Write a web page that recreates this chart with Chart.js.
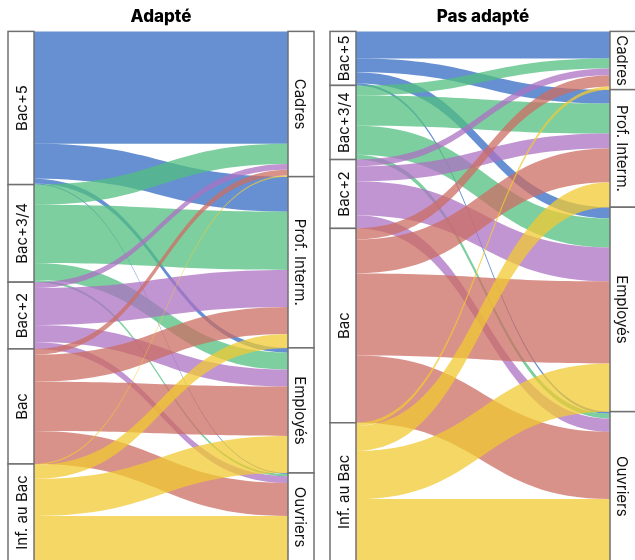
<!DOCTYPE html>
<html><head><meta charset="utf-8">
<script src="https://cdn.jsdelivr.net/npm/chart.js@4/dist/chart.umd.min.js"></script>
<style>
html,body{margin:0;padding:0;background:#fff;overflow:hidden;width:635px;height:560px;position:relative;}
canvas{position:absolute;top:0;}
#c1{left:0}
#c2{left:322px}
</style></head><body>
<canvas id="c1" width="322" height="561"></canvas>
<canvas id="c2" width="322" height="561"></canvas>
<script>
// Catégories
const sources = ["Bac+5", "Bac+3/4", "Bac+2", "Bac", "Inf. au Bac"];
const targets = ["Cadres", "Prof. Interm.", "Employés", "Ouvriers"];
const panelTitles = ["Adapté", "Pas adapté"];
// Couleurs des flux (une par diplôme)
const flowColors = [
  "rgba(51,107,193,0.75)",
  "rgba(82,191,128,0.75)",
  "rgba(172,114,195,0.75)",
  "rgba(204,110,99,0.75)",
  "rgba(242,202,51,0.75)"
];
// Flux en % (ligne = diplôme, colonne = catégorie socio-professionnelle)
const adapteFlows = [
  [21.2, 6.6, 0.9, 0.2],
  [3.8, 11.0, 3.2, 0.4],
  [1.1, 7.0, 3.2, 1.3],
  [1.1, 5.1, 9.3, 6.2],
  [0.2, 2.6, 7.0, 8.5]
];
const pasAdapteFlows = [
  [5.1, 2.6, 2.1, 0.4],
  [1.9, 5.7, 5.5, 0.9],
  [1.3, 2.8, 6.4, 2.5],
  [2.1, 6.4, 15.5, 12.7],
  [0.6, 4.7, 9.1, 11.7]
];

const FONT = "Inter, 'Open Sans', sans-serif";
Chart.defaults.font.family = FONT;

const sankeyPlugin = {
  id: 'sankey',
  afterDatasetsDraw(chart, args, opts) {
    const ctx = chart.ctx;
    const xs = chart.scales.x, ys = chart.scales.y;
    const m = opts.matrix;
    const nw = opts.nodeWidth;
    const xl = xs.getPixelForValue(0), xr = xs.getPixelForValue(1);
    const srcTot = m.map(r => r.reduce((a, b) => a + b, 0));
    const tgtTot = targets.map((_, j) => m.reduce((a, r) => a + r[j], 0));
    const srcStart = []; let acc = 0;
    srcTot.forEach(v => { srcStart.push(acc); acc += v; });
    const tgtStart = []; acc = 0;
    tgtTot.forEach(v => { tgtStart.push(acc); acc += v; });
    const tgtOff = tgtStart.slice();
    const x0 = xl + nw, x1 = xr - nw, xm = (x0 + x1) / 2;
    ctx.save();
    m.forEach((row, i) => {
      let so = srcStart[i];
      row.forEach((v, j) => {
        const a0 = ys.getPixelForValue(so), a1 = ys.getPixelForValue(so + v);
        const b0 = ys.getPixelForValue(tgtOff[j]), b1 = ys.getPixelForValue(tgtOff[j] + v);
        so += v; tgtOff[j] += v;
        ctx.beginPath();
        ctx.moveTo(x0, a0);
        ctx.bezierCurveTo(xm, a0, xm, b0, x1, b0);
        ctx.lineTo(x1, b1);
        ctx.bezierCurveTo(xm, b1, xm, a1, x0, a1);
        ctx.closePath();
        ctx.fillStyle = flowColors[i];
        ctx.fill();
      });
    });
    // nodes
    const drawNode = (xa, start, val, label, rot) => {
      const ya = ys.getPixelForValue(start), yb = ys.getPixelForValue(start + val);
      ctx.fillStyle = '#fff';
      ctx.fillRect(xa, ya, nw, yb - ya);
      ctx.strokeStyle = '#707070';
      ctx.lineWidth = 1.5;
      ctx.strokeRect(xa, ya, nw, yb - ya);
      ctx.save();
      ctx.translate(xa + nw / 2, (ya + yb) / 2);
      ctx.rotate(rot);
      ctx.fillStyle = '#111';
      ctx.font = "15px " + FONT;
      ctx.textAlign = 'center';
      ctx.textBaseline = 'middle';
      ctx.fillText(label, 0, 1);
      ctx.restore();
    };
    sources.forEach((s, i) => drawNode(xl, srcStart[i], srcTot[i], s, -Math.PI / 2));
    targets.forEach((t, j) => drawNode(xr - nw, tgtStart[j], tgtTot[j], t, Math.PI / 2));
    ctx.restore();
  }
};

function makePanel(id, title, matrix) {
  const total = matrix.reduce((a, r) => a + r.reduce((b, c) => b + c, 0), 0);
  new Chart(document.getElementById(id), {
    type: 'scatter',
    data: { datasets: [{ data: [] }] },
    options: {
      responsive: false,
      animation: false,
      layout: { padding: { left: 8, right: 8, top: 0, bottom: 0 } },
      scales: {
        x: { type: 'linear', min: 0, max: 1, display: false },
        y: { type: 'linear', min: 0, max: total, reverse: true, display: false }
      },
      plugins: {
        legend: { display: false },
        tooltip: { enabled: false },
        title: {
          display: true, text: title, color: '#000',
          font: { size: 17, weight: 800, family: FONT },
          padding: { top: 7, bottom: 4 }
        },
        sankey: { matrix: matrix, nodeWidth: 26 }
      }
    },
    plugins: [sankeyPlugin]
  });
}
makePanel('c1', panelTitles[0], adapteFlows);
makePanel('c2', panelTitles[1], pasAdapteFlows);
</script>
</body></html>
